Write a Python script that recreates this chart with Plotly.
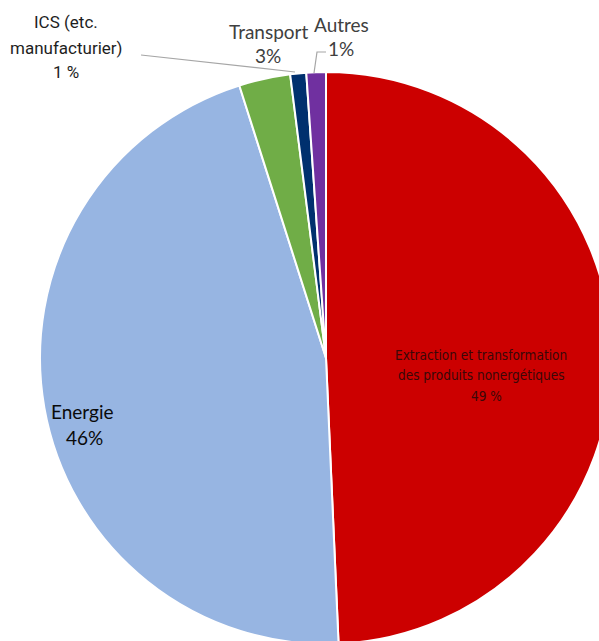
import plotly.graph_objects as go

labels = ["Extraction et transformation des produits nonergétiques", "Energie", "Transport",
          "ICS (etc. manufacturier)", "Autres"]
values = [49.3, 45.8, 2.9, 0.9, 1.1]
colors = ["#CC0000", "#97B5E2", "#70AD47", "#00306E", "#7030A0"]
extraction_lines = ["Extraction et transformation", "des produits nonergétiques", "49 %"]
energie_lines = ["Energie", "46%"]
transport_lines = ["Transport", "3%"]
ics_lines = ["ICS (etc.", "manufacturier)", "1 %"]
autres_lines = ["Autres", "1%"]

W, H = 640, 660


def px(x):
    return x / W


def py(y):
    return 1 - y / H


fig = go.Figure(go.Pie(
    labels=labels, values=values, sort=False, direction="clockwise", rotation=0,
    marker=dict(colors=colors, line=dict(color="white", width=2)),
    textinfo="none", hoverinfo="label+percent",
    domain=dict(x=[px(40), px(612)], y=[py(644), py(72)]),
    showlegend=False,
))

f_cond = dict(family="DejaVu Sans Condensed, sans-serif", size=13.5, color="#3a0808")
f_cal = dict(family="Lato, Carlito, sans-serif", size=19, color="#404040")
f_en = dict(family="Lato, Carlito, sans-serif", size=19, color="#0a0a0a")
f_ics = dict(family="Roboto, sans-serif", size=17, color="#1e1e1e")

items = [
    (extraction_lines, [481, 481, 486], [355, 375, 396], f_cond),
    (energie_lines, [82, 84], [411, 437], f_en),
    (transport_lines, [269, 268], [31, 55], f_cal),
    (ics_lines, [66, 66], [22, 48, 72], f_ics),
    (autres_lines, [341, 341], [24, 49], f_cal),
]
annotations = []
for lines, xs, ys, font in items:
    for i, t in enumerate(lines):
        x = xs[min(i, len(xs) - 1)]
        annotations.append(dict(text=t, x=px(x), y=py(ys[i]), xref="paper", yref="paper",
                                showarrow=False, xanchor="center", yanchor="middle", font=font))

shapes = [
    dict(type="line", xref="paper", yref="paper", x0=px(141), y0=py(55), x1=px(295), y1=py(72),
         line=dict(color="#A6A6A6", width=1.2)),
    dict(type="path", xref="paper", yref="paper",
         path=f"M {px(326)} {py(52)} L {px(317)} {py(52)} L {px(314)} {py(73)}",
         line=dict(color="#A6A6A6", width=1.2)),
]

fig.update_layout(width=W, height=H, margin=dict(l=0, r=0, t=0, b=0),
                  paper_bgcolor="white", plot_bgcolor="white",
                  annotations=annotations, shapes=shapes)

fig.write_html("out.html", post_script="document.body.style.margin='0';document.body.style.overflow='hidden';")
